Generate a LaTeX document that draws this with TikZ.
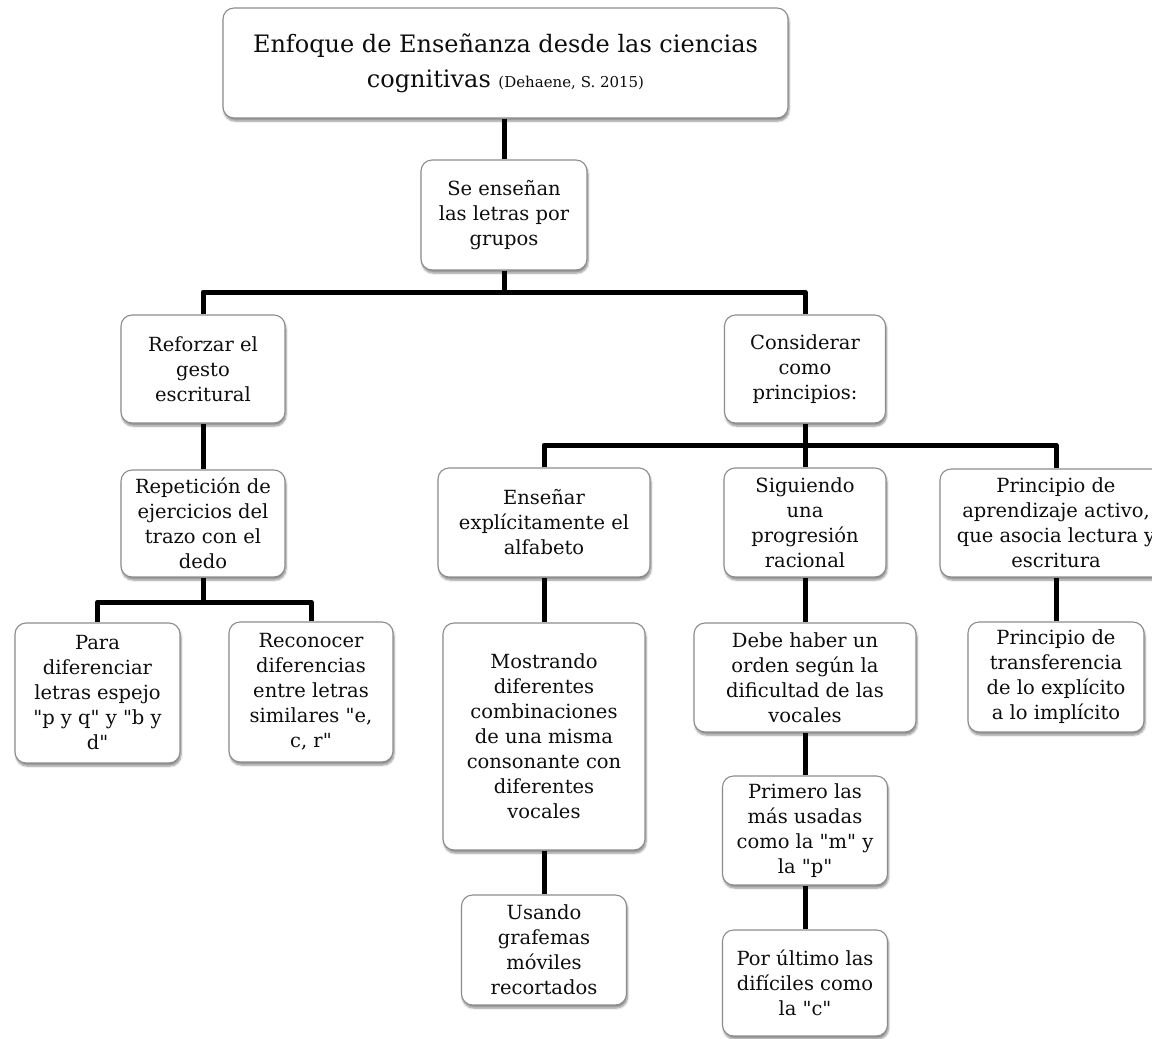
\documentclass[tikz,border=0pt]{standalone}
\usepackage{fontspec}
\setmainfont{DejaVu Serif}
\usetikzlibrary{shadows.blur,backgrounds}
\definecolor{boxgray}{RGB}{140,140,140}
\newcommand\bxfont{\fontsize{19.5}{25}\selectfont}
\newcommand\ttlfont{\fontsize{24}{35}\selectfont}
\newcommand\citefont{\fontsize{15}{20}\selectfont}
\newcommand\qq{\textquotedbl}
\begin{document}
\begin{tikzpicture}[x=1pt,y=-1pt,
  box/.style={draw=boxgray, line width=1.1pt, fill=white, rounded corners=11pt,
    align=center, inner sep=0pt, font=\bxfont, text=black!95,
    blur shadow={shadow xshift=1pt, shadow yshift=-3pt, shadow blur steps=6, shadow opacity=45}},
  link/.style={line width=5pt, black, line join=round}]
\useasboundingbox (0,0) rectangle (1152,1039);
\clip (0,0) rectangle (1152,1039);

% root
\node[box, minimum width=565pt, minimum height=110pt, font=\ttlfont] (top) at (505.5,63)
  {Enfoque de Enseñanza desde las ciencias\\cognitivas {\citefont(Dehaene, S. 2015)}};
\node[box, minimum width=166pt, minimum height=110pt] (grp) at (504,215)
  {Se enseñan\\las letras por\\grupos};

% left branch
\node[box, minimum width=164pt, minimum height=108pt] (refo) at (203,369)
  {Reforzar el\\gesto\\escritural};
\node[box, minimum width=164pt, minimum height=107pt] (rep) at (203,523.5)
  {Repetición de\\ejercicios del\\trazo con el\\dedo};
\node[box, minimum width=165pt, minimum height=140pt] (para) at (97.5,693)
  {Para\\diferenciar\\letras espejo\\\qq p y q\qq{} y \qq b y\\d\qq};
\node[box, minimum width=164pt, minimum height=140pt] (recon) at (311,692)
  {Reconocer\\diferencias\\entre letras\\similares \qq e,\\c, r\qq};

% right branch
\node[box, minimum width=161pt, minimum height=108pt] (cons) at (805,369)
  {Considerar\\como\\principios:};
\node[box, minimum width=212pt, minimum height=109pt] (ens) at (544,522.5)
  {Enseñar\\explícitamente el\\alfabeto};
\node[box, minimum width=162pt, minimum height=109pt] (sig) at (805,522.5)
  {Siguiendo\\una\\progresión\\racional};
\node[box, minimum width=232pt, minimum height=108pt] (pact) at (1056,523)
  {Principio de\\aprendizaje activo,\\que asocia lectura y\\escritura};
\node[box, minimum width=202pt, minimum height=227pt] (most) at (544,736.5)
  {Mostrando\\diferentes\\combinaciones\\de una misma\\consonante con\\diferentes\\vocales};
\node[box, minimum width=165pt, minimum height=110pt] (usa) at (544,950)
  {Usando\\grafemas\\móviles\\recortados};
\node[box, minimum width=222pt, minimum height=109pt] (debe) at (805,677.5)
  {Debe haber un\\orden según la\\dificultad de las\\vocales};
\node[box, minimum width=165pt, minimum height=109pt] (prim) at (805,830.5)
  {Primero las\\más usadas\\como la \qq m\qq{} y\\la \qq p\qq};
\node[box, minimum width=165pt, minimum height=106pt] (ult) at (805,983)
  {Por último las\\difíciles como\\la \qq c\qq};
\node[box, minimum width=176pt, minimum height=110pt] (trans) at (1056,677)
  {Principio de\\transferencia\\de lo explícito\\a lo implícito};

% junction points of the bars
\coordinate (j1) at (504,292);
\coordinate (j2) at (203,602);
\coordinate (j3) at (805,445);

\begin{scope}[on background layer]
  \draw[link] (grp.north) -- (grp.north |- top.south);
  \draw[link] (grp.south) -- (j1);
  \draw[link] (refo.north) |- (j1) -| (cons.north);
  \draw[link] (refo.south) -- (rep.north);
  \draw[link] (rep.south) -- (j2);
  \draw[link] (para.north) |- (j2) -| (recon.north);
  \draw[link] (cons.south) -- (j3);
  \draw[link] (ens.north) |- (j3) -| (pact.north);
  \draw[link] (j3) -- (sig.north);
  \draw[link] (ens.south) -- (most.north);
  \draw[link] (most.south) -- (usa.north);
  \draw[link] (sig.south) -- (debe.north);
  \draw[link] (debe.south) -- (prim.north);
  \draw[link] (prim.south) -- (ult.north);
  \draw[link] (pact.south) -- (trans.north);
\end{scope}
\end{tikzpicture}
\end{document}
